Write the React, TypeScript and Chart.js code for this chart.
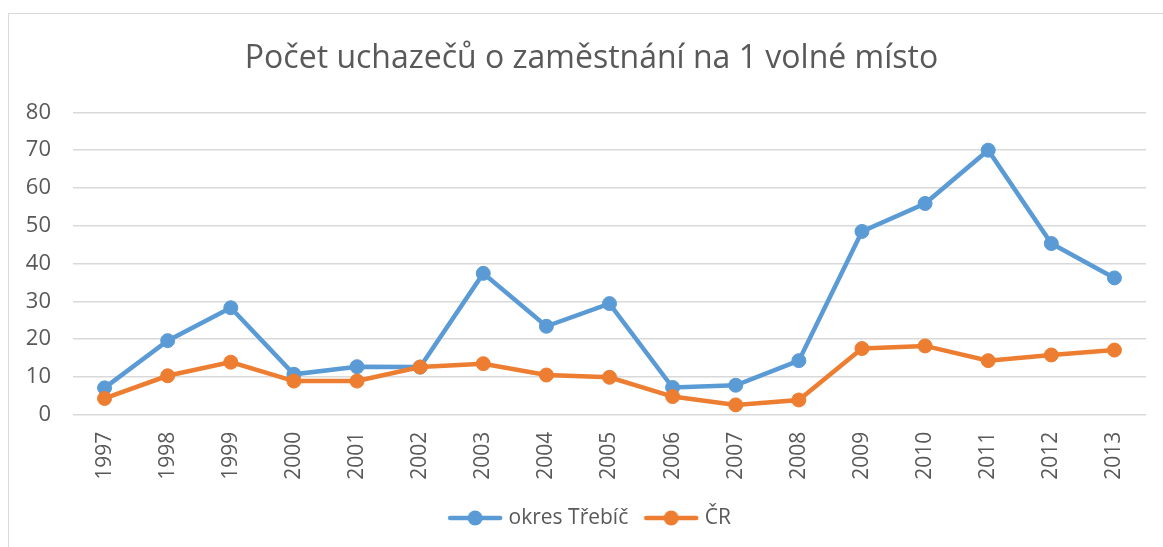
import React, { useEffect, useRef } from "react";
import { Chart, registerables } from "chart.js";

Chart.register(...registerables);

const years = ["1997","1998","1999","2000","2001","2002","2003","2004","2005","2006","2007","2008","2009","2010","2011","2012","2013"];
const trebic = [7.1, 19.6, 28.3, 10.7, 12.7, 12.6, 37.4, 23.4, 29.4, 7.2, 7.8, 14.3, 48.5, 55.9, 70.0, 45.3, 36.2];
const cr = [4.3, 10.3, 13.9, 8.9, 8.9, 12.6, 13.5, 10.5, 9.9, 4.8, 2.6, 3.9, 17.5, 18.2, 14.3, 15.8, 17.1];
const seriesNames = ["okres Třebíč", "ČR"];
const titleText = "Počet uchazečů o zaměstnání na 1 volné místo";

const BLUE = "#5B9BD5";
const ORANGE = "#ED7D31";
const TEXT = "#595959";
const GRID = "#D9D9D9";
const FONT = "'Open Sans', sans-serif";

function legendIcon(color: string) {
  const c = document.createElement("canvas");
  c.width = 56;
  c.height = 16;
  const ctx = c.getContext("2d")!;
  ctx.strokeStyle = color;
  ctx.lineWidth = 4.5;
  ctx.lineCap = "round";
  ctx.beginPath();
  ctx.moveTo(3, 8);
  ctx.lineTo(53, 8);
  ctx.stroke();
  ctx.fillStyle = color;
  ctx.beginPath();
  ctx.arc(28, 8, 7.5, 0, Math.PI * 2);
  ctx.fill();
  return c;
}

const shiftBoxes = {
  id: "shiftBoxes",
  afterLayout(chart: any) {
    if (chart.titleBlock) chart.titleBlock.left = 37;
    if (chart.legend) chart.legend.left = 37;
  },
};

export default function App() {
  const ref = useRef<HTMLCanvasElement | null>(null);
  useEffect(() => {
    if (!ref.current) return;
    const icons = [legendIcon(BLUE), legendIcon(ORANGE)];
    const chart = new Chart(ref.current, {
      type: "line",
      data: {
        labels: years,
        datasets: [
          {
            label: seriesNames[0],
            data: trebic,
            borderColor: BLUE,
            backgroundColor: BLUE,
            borderWidth: 4.5,
            pointRadius: 7,
            pointBorderWidth: 1,
            pointHoverRadius: 7,
            order: 1,
          },
          {
            label: seriesNames[1],
            data: cr,
            borderColor: ORANGE,
            backgroundColor: ORANGE,
            borderWidth: 4.5,
            pointRadius: 7,
            pointBorderWidth: 1,
            pointHoverRadius: 7,
            order: 0,
          },
        ],
      },
      plugins: [shiftBoxes],
      options: {
        animation: false,
        responsive: false,
        maintainAspectRatio: false,
        layout: { padding: { left: 0, right: 17, top: 0, bottom: 8.5 } },
        plugins: {
          title: {
            display: true,
            text: titleText,
            color: TEXT,
            font: { family: FONT, size: 32, weight: "normal" },
            padding: { top: 40, bottom: 34 },
          },
          legend: {
            display: true,
            position: "bottom",
            labels: {
              color: TEXT,
              font: { family: FONT, size: 21 },
              usePointStyle: true,
              pointStyleWidth: 46,
              padding: 20,
              sort: (a: any, b: any) => a.datasetIndex - b.datasetIndex,
              generateLabels: (ch: any) => {
                const items = Chart.defaults.plugins.legend.labels.generateLabels(ch);
                return items.map((it: any) => ({ ...it, pointStyle: icons[it.datasetIndex] }));
              },
            },
          },
          tooltip: { enabled: false },
        },
        scales: {
          x: {
            offset: true,
            grid: { display: false, drawTicks: false },
            border: { display: false },
            ticks: {
              color: TEXT,
              font: { family: FONT, size: 21 },
              minRotation: 90,
              maxRotation: 90,
              padding: 17,
            },
            afterFit: (s: any) => {
              s.height = 72.8;
            },
          },
          y: {
            min: 0,
            max: 80,
            grid: { color: GRID, lineWidth: 1.5, drawTicks: false },
            border: { display: false },
            ticks: {
              stepSize: 10,
              color: TEXT,
              font: { family: FONT, size: 22 },
              padding: 22,
            },
            afterFit: (s: any) => {
              s.width = 73;
            },
          },
        },
      },
    });
    return () => chart.destroy();
  }, []);
  return (
    <div style={{ position: "fixed", left: 0, top: 0, width: 1163, height: 547, background: "#fff", overflow: "hidden" }}>
      <div
        style={{
          position: "absolute",
          left: 8,
          top: 13,
          width: 1200,
          height: 600,
          borderLeft: "1.5px solid #D9D9D9",
          borderTop: "1.5px solid #D9D9D9",
        }}
      />
      <canvas ref={ref} width={1163} height={547} style={{ position: "absolute", left: 0, top: 0 }} />
    </div>
  );
}
